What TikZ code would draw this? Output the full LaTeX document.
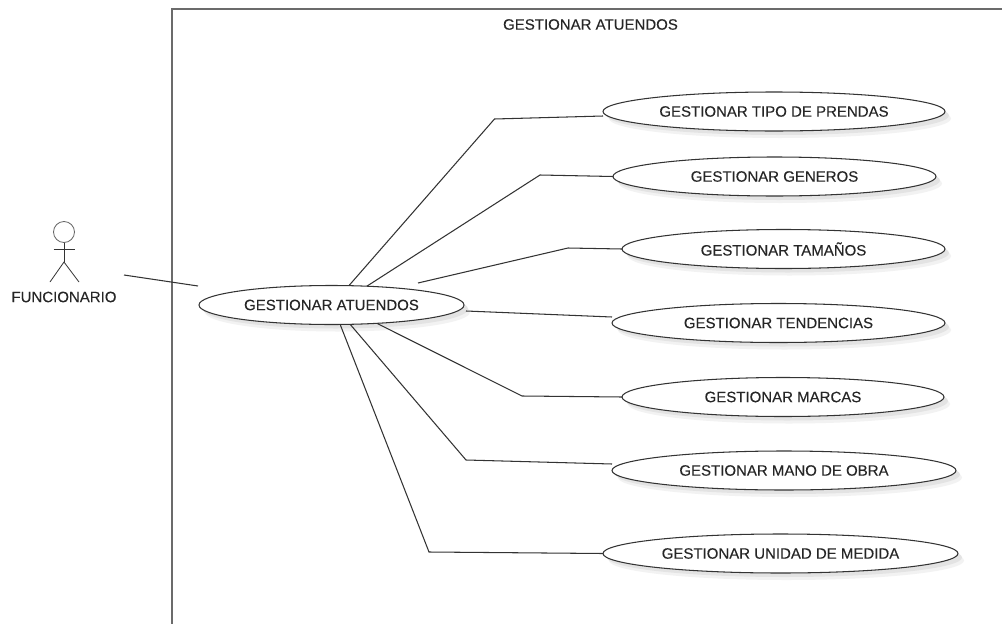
\documentclass[tikz,border=0pt]{standalone}
\usepackage{fontspec}
\setmainfont{Liberation Sans}
\newfontfamily\heavy[FakeBold=0.22]{Liberation Sans}
\usetikzlibrary{shapes.geometric,shadows}
\definecolor{txt}{gray}{0.15}
\definecolor{ln}{gray}{0.2}
\tikzset{
  uc/.style={ellipse,draw=ln,line width=1.05pt,fill=white,inner sep=0pt,outer sep=0pt,minimum height=39pt,
    text=txt,font=\heavy\fontsize{15}{17}\selectfont,
    drop shadow={shadow xshift=6pt,shadow yshift=-7pt,fill=black!5,draw=none,opacity=1},
    drop shadow={shadow xshift=4pt,shadow yshift=-4pt,fill=black!11,draw=none,opacity=1}},
  link/.style={draw=ln,line width=1.05pt},
  frame/.style={draw=black!58,line width=1.5pt},
  lbl/.style={text=txt,font=\heavy\fontsize{15}{17}\selectfont,inner sep=0pt},
  stick/.style={draw=ln,line width=0.8pt}
}
\begin{document}
\begin{tikzpicture}[x=1pt,y=-1pt]
\useasboundingbox (0,0) rectangle (1002,624);
\fill[white] (0,0) rectangle (1002,624);
% frame
\coordinate (fa) at (172,624);
\coordinate (fb) at (172,9);
\coordinate (fc) at (1002,9);
\draw[frame] (fa) -- (fb) -- (fc);
\node[lbl] (title) at (590.5,24.5) {GESTIONAR ATUENDOS};
% actor
\node[circle,draw=black!60,line width=0.8pt,minimum size=21pt,inner sep=0pt] (head) at (64,232) {};
\coordinate (hip) at (64,262);
\coordinate (armL) at (53.5,249);
\coordinate (armR) at (75,249);
\coordinate (legL) at (50,282);
\coordinate (legR) at (79,282);
\draw[stick] (head.south) -- (hip);
\draw[stick] (armL) -- (armR);
\draw[stick] (legL) -- (hip) -- (legR);
\node[lbl] (actor) at (64,297) {FUNCIONARIO};
% use cases
\node[uc,minimum width=265pt] (main) at (331.5,305) {GESTIONAR ATUENDOS};
\node[uc,minimum width=342pt] (tipo) at (774,111.5) {GESTIONAR TIPO DE PRENDAS};
\node[uc,minimum width=323pt] (gen) at (774.5,176.5) {GESTIONAR GENEROS};
\node[uc,minimum width=323pt] (tam) at (783.5,249) {GESTIONAR TAMAÑOS};
\node[uc,minimum width=333pt] (ten) at (778.5,323) {GESTIONAR TENDENCIAS};
\node[uc,minimum width=322pt] (mar) at (783,397) {GESTIONAR MARCAS};
\node[uc,minimum width=344pt] (man) at (784,470.5) {GESTIONAR MANO DE OBRA};
\node[uc,minimum width=355pt] (uni) at (780.5,553.5) {GESTIONAR UNIDAD DE MEDIDA};
% connectors
\coordinate (a1) at (124,275);
\coordinate (a2) at (198,286);
\draw[link] (a1) -- (a2);
\coordinate (b1) at (494.5,119);
\coordinate (b2) at (540,175);
\coordinate (b3) at (568,248);
\coordinate (b5) at (522,396);
\coordinate (b6) at (466,460);
\coordinate (b7) at (429,552);
\coordinate (s3) at (418,283);
\coordinate (s4) at (466,311);
\draw[link] (main.48) -- (b1) -- ([yshift=-4.5pt]tipo.west);
\draw[link] (main.28.6) -- (b2) -- (gen.west);
\draw[link] (s3) -- (b3) -- (tam.west);
\draw[link] (s4) -- ([yshift=6pt]ten.west);
\draw[link] (main.-22.4) -- (b5) -- (mar.west);
\draw[link] (main.-46.2) -- (b6) -- ([yshift=6.5pt]man.west);
\draw[link] (main.-66.4) -- (b7) -- (uni.west);
\end{tikzpicture}
\end{document}
